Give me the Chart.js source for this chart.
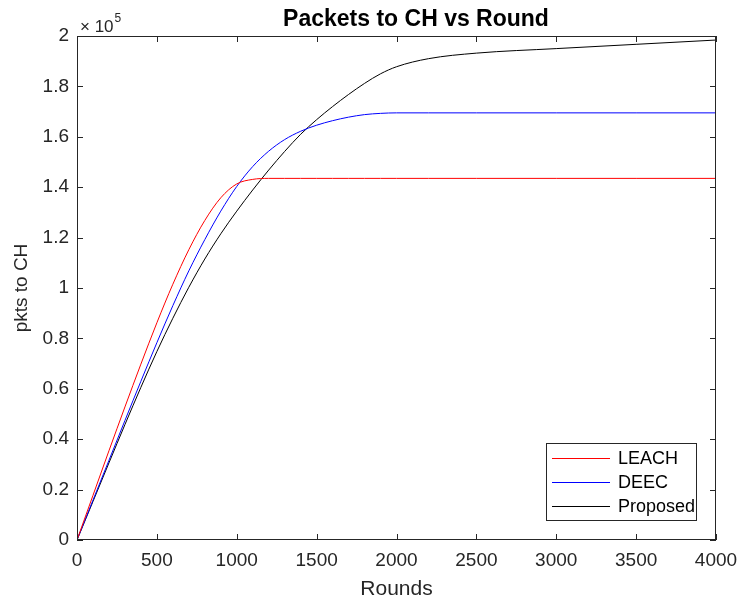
<!DOCTYPE html>
<html>
<head>
<meta charset="utf-8">
<title>Packets to CH vs Round</title>
<script src="https://cdn.jsdelivr.net/npm/chart.js@4.4.1/dist/chart.umd.min.js"></script>
<style>
  html, body { margin: 0; padding: 0; background: #fff; }
  #wrap { width: 741px; height: 600px; }
</style>
</head>
<body>
<div id="wrap"><canvas id="pktChart" width="741" height="600"></canvas></div>
<script>
// rounds
const rounds = [0, 100, 200, 300, 400, 500, 600, 700, 800, 900, 1000, 1100, 1200, 1300, 1400,
                1500, 1600, 1700, 1800, 1900, 2000, 2200, 2500, 3000, 3500, 4000];

// packets to CH for each protocol
const leach = [0, 17700, 35400, 52800, 69800, 86200, 101500, 115200, 126800, 135800, 141300, 143100, 143500, 143500, 143500,
               143500, 143500, 143500, 143500, 143500, 143500, 143500, 143500, 143500, 143500, 143500];
const deec = [0, 15800, 31600, 47400, 63000, 78300, 93000, 106800, 119200, 130500, 140300, 148200, 154300, 158900, 162200,
              164600, 166400, 167800, 168800, 169300, 169500, 169500, 169500, 169500, 169500, 169500];
const proposed = [0, 15300, 30600, 45800, 60600, 74800, 88000, 100300, 111500, 121500, 130500, 138900, 146800, 154200, 161000,
                  166800, 172000, 176800, 181200, 185000, 187800, 191000, 193200, 195000, 196700, 198400];

const seriesNames = ['LEACH', 'DEEC', 'Proposed'];
const seriesColors = ['#ff0000', '#0000ff', '#000000'];

const xMax = 4000, xStep = 500;
const yMax = 200000, yStep = 20000;
const yExponent = 5;

const axisColor = '#262626';
const fontFamily = '"Liberation Sans", Arial, Helvetica, sans-serif';

const toPoints = vals => rounds.map((r, i) => ({ x: r, y: vals[i] }));

const matlabAxes = {
    id: 'matlabAxes',
    afterDraw(chart) {
        const { ctx, chartArea: a, scales } = chart;
        const xs = scales.x, ys = scales.y;
        ctx.save();

        // box + inward ticks
        ctx.strokeStyle = axisColor;
        ctx.lineWidth = 1;
        ctx.strokeRect(a.left + 0.5, a.top + 0.5, a.right - a.left - 1, a.bottom - a.top - 1);
        ctx.beginPath();
        xs.ticks.forEach(t => {
            const px = Math.round(xs.getPixelForValue(t.value)) + 0.5;
            ctx.moveTo(px, a.bottom); ctx.lineTo(px, a.bottom - 6);
            ctx.moveTo(px, a.top); ctx.lineTo(px, a.top + 6);
        });
        ys.ticks.forEach(t => {
            const py = Math.round(ys.getPixelForValue(t.value)) + 0.5;
            ctx.moveTo(a.left, py); ctx.lineTo(a.left + 6, py);
            ctx.moveTo(a.right, py); ctx.lineTo(a.right - 6, py);
        });
        ctx.stroke();

        // exponent label
        ctx.fillStyle = axisColor;
        ctx.textBaseline = 'alphabetic';
        ctx.textAlign = 'left';
        ctx.font = '17px ' + fontFamily;
        const base = '\u00d7 10';
        ctx.fillText(base, a.left + 3, a.top - 4);
        const bw = ctx.measureText(base).width;
        ctx.font = '12px ' + fontFamily;
        ctx.fillText(String(yExponent), a.left + 3 + bw + 1, a.top - 14);

        // title
        ctx.fillStyle = '#000';
        ctx.font = 'bold 23px ' + fontFamily;
        ctx.textAlign = 'center';
        ctx.fillText('Packets to CH vs Round', 416, a.top - 10);

        // legend
        ctx.font = '18px ' + fontFamily;
        ctx.textAlign = 'left';
        ctx.textBaseline = 'middle';
        const textW = Math.max(...seriesNames.map(n => ctx.measureText(n).width));
        const lineLen = 58, rowH = 24;
        const boxW = Math.round(6 + lineLen + 8 + textW + 1);
        const boxH = rowH * seriesNames.length + 5;
        const bx = Math.round(a.right - 20 - boxW);
        const by = Math.round(a.bottom - 20 - boxH);
        ctx.fillStyle = '#fff';
        ctx.fillRect(bx, by, boxW, boxH);
        ctx.strokeStyle = axisColor;
        ctx.strokeRect(bx + 0.5, by + 0.5, boxW, boxH);
        seriesNames.forEach((name, i) => {
            const cy = by + 15 + i * rowH;
            ctx.fillStyle = seriesColors[i];
            ctx.fillRect(bx + 6, cy, lineLen, 1);
            ctx.fillStyle = '#000';
            ctx.fillText(name, bx + 6 + lineLen + 8, cy + 1);
        });
        ctx.restore();
    }
};

new Chart(document.getElementById('pktChart'), {
    type: 'line',
    data: {
        datasets: [
            { label: seriesNames[0], data: toPoints(leach), borderColor: seriesColors[0] },
            { label: seriesNames[1], data: toPoints(deec), borderColor: seriesColors[1] },
            { label: seriesNames[2], data: toPoints(proposed), borderColor: seriesColors[2] },
        ],
    },
    options: {
        responsive: false,
        animation: false,
        devicePixelRatio: 1,
        layout: { padding: { top: 36, right: 25, bottom: 0, left: 0 } },
        elements: {
            line: { borderWidth: 1, tension: 0.4, cubicInterpolationMode: 'monotone', fill: false },
            point: { radius: 0 },
        },
        plugins: {
            legend: { display: false },
            title: { display: false },
            tooltip: { enabled: false },
        },
        scales: {
            x: {
                type: 'linear',
                min: 0,
                max: xMax,
                grid: { display: false, drawTicks: false },
                border: { display: false },
                ticks: {
                    stepSize: xStep,
                    padding: 9,
                    color: axisColor,
                    font: { family: fontFamily, size: 19 },
                    maxRotation: 0,
                    callback: v => String(v),
                },
                title: {
                    display: true,
                    text: 'Rounds',
                    color: axisColor,
                    font: { family: fontFamily, size: 21, lineHeight: 1 },
                    padding: { top: 0, bottom: 0 },
                },
                afterFit: scale => {
                    scale.height = 60;
                    scale.paddingLeft = 0;
                    scale.paddingRight = 0;
                },
            },
            y: {
                min: 0,
                max: yMax,
                grid: { display: false, drawTicks: false },
                border: { display: false },
                ticks: {
                    stepSize: yStep,
                    padding: 8,
                    color: axisColor,
                    font: { family: fontFamily, size: 19 },
                    callback: v => String(+(v / Math.pow(10, yExponent)).toFixed(1)),
                },
                title: {
                    display: true,
                    text: 'pkts to CH',
                    color: axisColor,
                    font: { family: fontFamily, size: 19 },
                    padding: { top: 10, bottom: 0 },
                },
                afterFit: scale => {
                    scale.width = 77;
                    scale.paddingTop = 0;
                    scale.paddingBottom = 0;
                },
            },
        },
    },
    plugins: [matlabAxes],
});
</script>
</body>
</html>
